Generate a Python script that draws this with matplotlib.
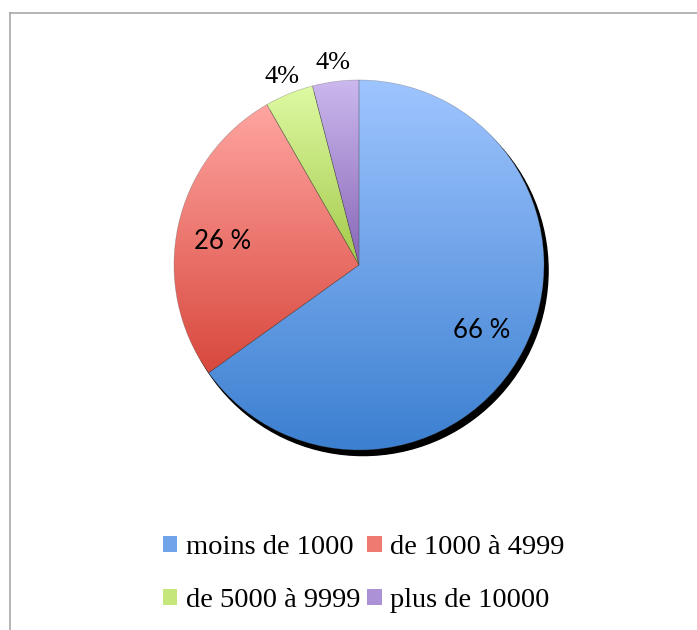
import numpy as np
import matplotlib.pyplot as plt
from matplotlib.colors import LinearSegmentedColormap
from matplotlib.patches import Circle, Patch
from matplotlib.lines import Line2D

# Données (angles, étiquettes telles qu'affichées)
categories = ['moins de 1000', 'de 1000 à 4999', 'de 5000 à 9999', 'plus de 10000']
valeurs = [65.1, 26.6, 4.25, 4.05]
etiquettes = ['66 %', '26 %', '4%', '4%']

# dégradés haut -> bas pour chaque part
haut = ['#9FC5FF', '#FFA5A1', '#DEFAA3', '#CBB8EE']
bas = ['#3B7FD0', '#D8483D', '#A4C94B', '#8866B6']
milieu = ['#6FA3EA', '#EE7A72', '#C5E67A', '#AC91D6']

fig = plt.figure(figsize=(6.97, 6.3), dpi=100)

# cadre gris (haut et gauche)
fig.add_artist(Line2D([10/697, 10/697], [0, 1 - 13/630], color='#A8A8A8', lw=1.2))
fig.add_artist(Line2D([10/697, 1], [1 - 13/630, 1 - 13/630], color='#A8A8A8', lw=1.2))

ax = fig.add_axes([(359 - 185)/697, (630 - 265 - 185)/630, 370/697, 370/630])

# ombre
ax.add_patch(Circle((0.022, -0.03), 1.0, color='black', zorder=0, clip_on=False))

wedges, _ = ax.pie(valeurs, startangle=90, counterclock=False,
                   wedgeprops=dict(linewidth=0))

for i, w in enumerate(wedges):
    w.set_facecolor('none')
    w.set_edgecolor((0.3, 0.3, 0.3, 0.35))
    w.set_linewidth(0.5)
    w.set_zorder(3)
    w.set_clip_on(False)
    v = w.get_path().vertices
    ymin, ymax = v[:, 1].min(), v[:, 1].max()
    cmap = LinearSegmentedColormap.from_list('g%d' % i, [bas[i], haut[i]])
    grad = np.linspace(0, 1, 256).reshape(-1, 1)
    im = ax.imshow(grad, cmap=cmap, origin='lower', aspect='auto',
                   extent=(-1.02, 1.02, ymin, ymax), zorder=2)
    im.set_clip_path(w)

# étiquettes
decalage = [-1, 2.5, 0, 0]
for i, w in enumerate(wedges):
    ang = np.deg2rad((w.theta1 + w.theta2) / 2 + decalage[i])
    if valeurs[i] > 10:
        r = 0.75
        ax.text(r*np.cos(ang), r*np.sin(ang), etiquettes[i], ha='center', va='center',
                fontsize=18.5, family='Lato', color='black', zorder=5)
    else:
        r = 1.1
        ax.text(r*np.cos(ang), r*np.sin(ang), etiquettes[i], ha='center', va='center',
                fontsize=19, family='Liberation Serif', color='black', zorder=5)

ax.set_xlim(-1, 1)
ax.set_ylim(-1, 1)
ax.set_aspect('auto')
ax.axis('off')

ordre = [0, 2, 1, 3]
handles = [Patch(facecolor=milieu[i], edgecolor='none') for i in ordre]
leg = fig.legend(handles, [categories[i] for i in ordre], ncol=2, loc='upper left',
                 bbox_to_anchor=(163/697, 1 - 535/630), frameon=False,
                 prop={'family': 'Liberation Serif', 'size': 20.5},
                 handlelength=0.5, handleheight=0.5, handletextpad=0.3,
                 columnspacing=0.25, labelspacing=1.0, borderpad=0, borderaxespad=0)

fig.savefig('out.png', dpi=100)
